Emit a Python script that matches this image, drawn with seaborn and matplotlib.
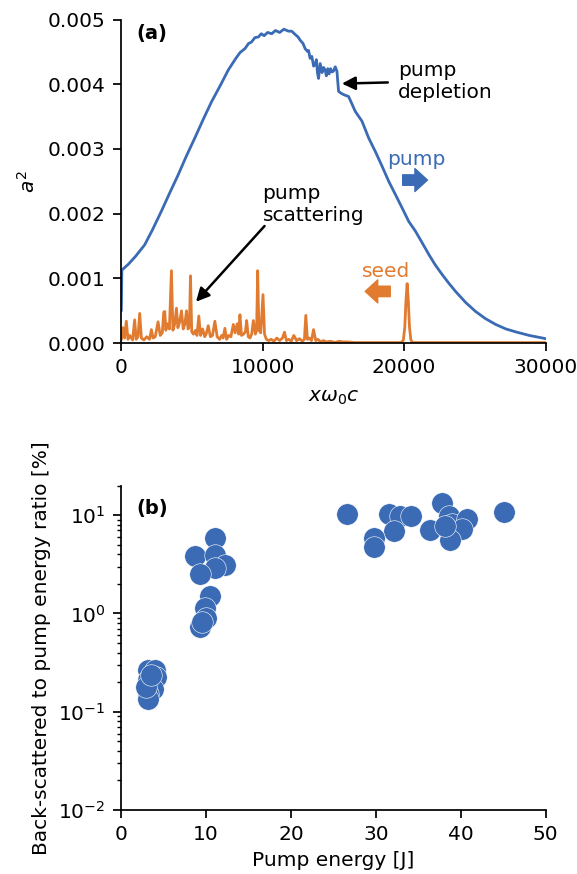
import numpy as np
import pandas as pd
import matplotlib
matplotlib.use("Agg")
import matplotlib.pyplot as plt
import seaborn as sns

# ---------------- data ----------------
pump_x = [0, 40, 500, 1000, 1655, 2200, 2837, 3400, 4020, 4600,
          5200, 5800, 6383, 7000, 7565, 8100, 8400, 8745, 9000, 9200,
          9450, 9695, 9900, 10100, 10350, 10640, 10900, 11200, 11500, 11820,
          12050, 12290, 12500, 12650, 12850, 13000, 13150, 13250, 13350, 13475,
          13600, 13700, 13800, 13870, 13950, 14063, 14200, 14300, 14420, 14500,
          14600, 14700, 14800, 14900, 15000, 15130, 15250, 15366, 15550, 15720,
          16076, 16548, 17020, 17494, 17967, 18450, 18913, 19400, 19858, 20331,
          20804, 21280, 21750, 22200, 22694, 23150, 23637, 24350, 25055, 25750,
          26474, 27200, 27893, 28850, 29787, 30000]
pump_y = [0.00050, 0.00113, 0.00122, 0.00134, 0.00152, 0.00175, 0.00204, 0.00231, 0.00260, 0.00289,
          0.00317, 0.00346, 0.00373, 0.00398, 0.00422, 0.00440, 0.00449, 0.00455, 0.00463, 0.00465,
          0.00472, 0.00473, 0.00478, 0.00475, 0.00480, 0.00478, 0.00483, 0.00480, 0.00485, 0.00482,
          0.00482, 0.00477, 0.00473, 0.00468, 0.00463, 0.00455, 0.00451, 0.00452, 0.00440, 0.00443,
          0.00428, 0.00430, 0.00438, 0.00418, 0.00409, 0.00432, 0.00418, 0.00426, 0.00422, 0.00413,
          0.00424, 0.00416, 0.00424, 0.00419, 0.00420, 0.00427, 0.00420, 0.00389, 0.00386, 0.00384,
          0.00381, 0.00358, 0.00343, 0.00317, 0.00296, 0.00273, 0.00250, 0.00229, 0.00209, 0.00188,
          0.00173, 0.00155, 0.00137, 0.00121, 0.00106, 0.00093, 0.00080, 0.00063, 0.00049, 0.00038,
          0.00029, 0.00022, 0.000175, 0.00012, 0.00008, 0.00007]

seed_x = [0, 120, 230, 355, 470, 600, 800, 945, 1050, 1180,
          1300, 1420, 1600, 1800, 2000, 2127, 2250, 2400, 2600, 2750,
          2900, 3000, 3073, 3150, 3250, 3400, 3546, 3650, 3780, 3900,
          4000, 4120, 4255, 4380, 4500, 4610, 4720, 4820, 4894, 4980,
          5100, 5250, 5350, 5482, 5600, 5750, 5900, 6000, 6149, 6300,
          6450, 6617, 6780, 6950, 7100, 7200, 7326, 7450, 7600, 7750,
          7922, 8050, 8200, 8300, 8390, 8500, 8650, 8780, 8865, 8980,
          9100, 9220, 9340, 9480, 9570, 9645, 9730, 9860, 10021, 10130,
          10260, 10420, 10600, 10800, 11000, 11200, 11400, 11539, 11680, 11850,
          12020, 12200, 12400, 12600, 12800, 12950, 13049, 13160, 13300, 13450,
          13595, 13750, 13900, 14100, 14300, 14500, 14800, 15100, 15400, 15700,
          16000, 16500, 17000, 18000, 19000, 19800, 19950, 20050, 20130, 20213,
          20300, 20380, 20480, 20600, 22000, 30000]
seed_y = [0.00005, 0.00024, 0.00008, 0.00034, 0.00006, 0.00012, 0.00005, 0.00036, 0.00006, 0.00010,
          0.00046, 0.00008, 0.00005, 0.00010, 0.00006, 0.00021, 0.00008, 0.00010, 0.00033, 0.00012,
          0.00016, 0.00048, 0.00049, 0.00020, 0.00030, 0.00022, 0.00112, 0.00020, 0.00030, 0.00054,
          0.00024, 0.00032, 0.00050, 0.00022, 0.00030, 0.00050, 0.00022, 0.00028, 0.00104, 0.00018,
          0.00014, 0.00020, 0.00012, 0.00042, 0.00012, 0.00022, 0.00010, 0.00014, 0.00027, 0.00010,
          0.00012, 0.00034, 0.00010, 0.00006, 0.00012, 0.00008, 0.00023, 0.00006, 0.00012, 0.00010,
          0.00029, 0.00016, 0.00030, 0.00014, 0.00044, 0.00012, 0.00014, 0.00018, 0.00035, 0.00010,
          0.00008, 0.00014, 0.00035, 0.00014, 0.00020, 0.00112, 0.00020, 0.00016, 0.00075, 0.00014,
          0.00006, 0.00004, 0.00006, 0.00003, 0.00008, 0.00004, 0.00008, 0.00017, 0.00004, 0.00006,
          0.00003, 0.00012, 0.00004, 0.00007, 0.00003, 0.00006, 0.00043, 0.00006, 0.00008, 0.00004,
          0.00021, 0.00004, 0.00006, 0.00002, 0.00004, 0.00002, 0.00003, 0.00001, 0.00003, 0.00002,
          0.00002, 0.00001, 0.00001, 0.00001, 0.00001, 0.00001, 0.00005, 0.00025, 0.00065, 0.00092,
          0.00065, 0.00025, 0.00005, 0.00001, 0.00001, 0.00001]

energy_J = [3.15, 3.94, 4.14, 3.15, 3.74, 3.15, 3.15, 2.96, 3.5,
            11.03, 8.67, 11.03, 12.2, 11.0, 9.26, 10.4, 9.85, 9.93, 9.26, 9.46,
            26.6, 31.5, 32.9, 34.1, 32.2, 29.75, 29.75, 37.75, 36.4, 38.6, 39.0,
            40.8, 40.2, 38.8, 38.2, 45.1]
ratio_pct = [0.264, 0.268, 0.225, 0.209, 0.171, 0.152, 0.136, 0.178, 0.234,
             5.9, 3.88, 3.97, 3.13, 2.9, 2.52, 1.51, 1.13, 0.89, 0.73, 0.82,
             10.4, 10.4, 9.8, 9.8, 6.9, 5.9, 4.8, 13.4, 7.0, 9.8, 8.05,
             9.2, 7.2, 5.65, 7.7, 10.8]

x_ticks_a = [0, 10000, 20000, 30000]
y_ticks_a = [0.000, 0.001, 0.002, 0.003, 0.004, 0.005]
x_ticks_b = [0, 10, 20, 30, 40, 50]

BLUE = "#3a6bb4"
ORANGE = "#e07b30"
FS = 14.5

sns.set_style("ticks")
plt.rcParams["font.family"] = ["DejaVu Sans"]
plt.rcParams.update({
    "font.size": FS, "axes.labelsize": FS,
    "xtick.labelsize": FS, "ytick.labelsize": FS,
    "text.color": "black", "axes.labelcolor": "black",
    "xtick.color": "black", "ytick.color": "black", "axes.edgecolor": "black",
    "axes.linewidth": 1.25,
    "xtick.major.width": 1.25, "ytick.major.width": 1.25,
    "xtick.major.size": 5.5, "ytick.major.size": 5.5,
    "ytick.minor.size": 3.0, "ytick.minor.width": 1.0,
    "xtick.major.pad": 5.0, "ytick.major.pad": 6.0, "ytick.minor.pad": 6.0,
})

fig = plt.figure(figsize=(5.77, 8.74), dpi=100)
W, H = 577, 874
ax1 = fig.add_axes([121.3 / W, 1 - 343.2 / H, 424.2 / W, 323.7 / H])
ax2 = fig.add_axes([121.3 / W, 1 - 810 / H, 424.2 / W, 324.4 / H])

# ---------------- panel (a) ----------------
df_p = pd.DataFrame({"x": pump_x, "y": pump_y})
df_s = pd.DataFrame({"x": seed_x, "y": seed_y})
sns.lineplot(data=df_p, x="x", y="y", ax=ax1, color=BLUE, lw=2, sort=False, estimator=None)
sns.lineplot(data=df_s, x="x", y="y", ax=ax1, color=ORANGE, lw=2, sort=False, estimator=None)
ax1.set_xlim(0, 30000)
ax1.set_ylim(0, 0.005)
ax1.set_xticks(x_ticks_a)
ax1.set_yticks(y_ticks_a)
ax1.set_yticklabels([f"{v:.3f}" for v in y_ticks_a])
ax1.set_xlabel(r"$x\omega_0 c$", labelpad=8)
ax1.set_ylabel(r"$a^2$", labelpad=6)
sns.despine(ax=ax1)

ax1.text(0.035, 0.985, "(a)", transform=ax1.transAxes, fontweight="bold",
         fontsize=14, va="top", ha="left")
ax1.annotate("pump\ndepletion", xy=(15600, 0.00401), xytext=(19570, 0.00405),
             va="center", ha="left", fontsize=FS,
             arrowprops=dict(arrowstyle="-|>", color="black", lw=1.8,
                             mutation_scale=20, shrinkA=5, shrinkB=0))
ax1.text(9990, 0.00215, "pump\nscattering", va="center", ha="left", fontsize=FS)
ax1.annotate("", xy=(5283, 0.00064), xytext=(10130, 0.00181),
             arrowprops=dict(arrowstyle="-|>", color="black", lw=1.8,
                             mutation_scale=20, shrinkA=0, shrinkB=0))
ax1.text(20840, 0.00284, "pump", color=BLUE, fontsize=FS, ha="center", va="center")
ax1.annotate("", xy=(21650, 0.00252), xytext=(19900, 0.00252),
             arrowprops=dict(arrowstyle="simple,head_length=0.6,head_width=1.1,tail_width=0.5",
                             color=BLUE, shrinkA=0, shrinkB=0, mutation_scale=15))
ax1.text(18720, 0.00110, "seed", color=ORANGE, fontsize=FS, ha="center", va="center")
ax1.annotate("", xy=(17250, 0.00080), xytext=(19020, 0.00080),
             arrowprops=dict(arrowstyle="simple,head_length=0.6,head_width=1.1,tail_width=0.5",
                             color=ORANGE, shrinkA=0, shrinkB=0, mutation_scale=15))

# ---------------- panel (b) ----------------
df_b = pd.DataFrame({"E": energy_J, "R": ratio_pct})
sns.scatterplot(data=df_b, x="E", y="R", ax=ax2, color=BLUE, s=240,
                edgecolor="white", linewidth=0.4, alpha=1.0)
ax2.set_yscale("log")
ax2.set_xlim(0, 50)
ax2.set_ylim(0.01, 20)
ax2.set_xticks(x_ticks_b)
ax2.set_xlabel("Pump energy [J]", labelpad=5)
ax2.set_ylabel("Back-scattered to pump energy ratio [%]", labelpad=5)
sns.despine(ax=ax2)
ax2.text(0.035, 0.958, "(b)", transform=ax2.transAxes, fontweight="bold",
         fontsize=14, va="top", ha="left")

fig.savefig("out.png", dpi=100)
